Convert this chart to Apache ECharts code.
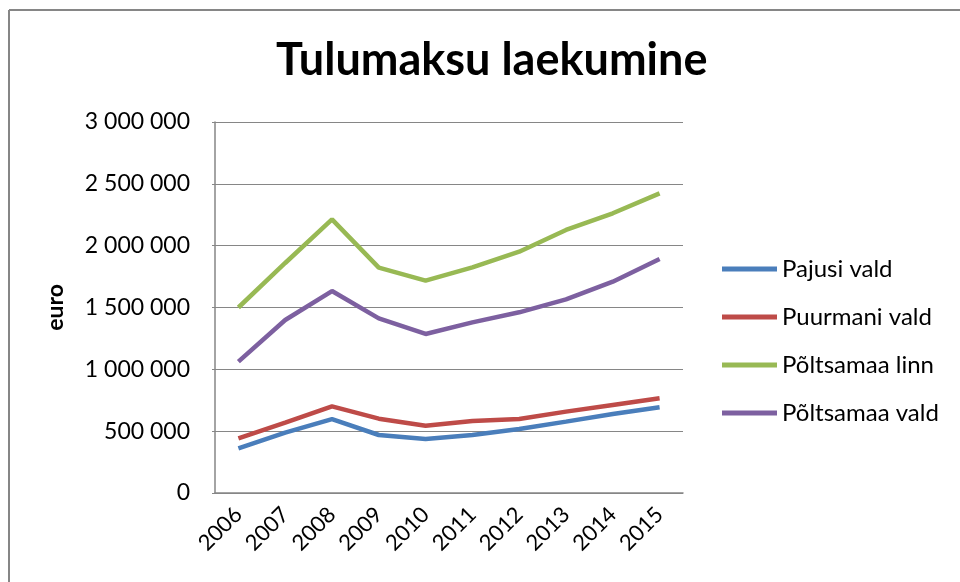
<!DOCTYPE html>
<html>
<head>
<meta charset="utf-8">
<script src="https://cdn.jsdelivr.net/npm/echarts@6/dist/echarts.min.js"></script>
<style>
  html, body { margin: 0; padding: 0; background: #fff; }
  #main { width: 960px; height: 582px; }
</style>
</head>
<body>
<div id="main"></div>
<script>
var years = ['2006', '2007', '2008', '2009', '2010', '2011', '2012', '2013', '2014', '2015'];
var pajusi = [361000, 488000, 598000, 469000, 437000, 469000, 517000, 577000, 639000, 693000];
var puurmani = [442000, 569000, 701000, 601000, 544000, 582000, 598000, 658000, 712000, 766000];
var poltsamaaLinn = [1500000, 1860000, 2213000, 1822000, 1717000, 1825000, 1951000, 2127000, 2262000, 2423000];
var poltsamaaVald = [1062000, 1399000, 1633000, 1412000, 1286000, 1380000, 1461000, 1566000, 1709000, 1892000];

var names = ['Pajusi vald', 'Puurmani vald', 'Põltsamaa linn', 'Põltsamaa vald'];
var colors = ['#4a7ebb', '#be4b48', '#98b954', '#7d60a0'];
var values = [pajusi, puurmani, poltsamaaLinn, poltsamaaVald];

var font = 'Lato, "Open Sans", sans-serif';

var myChart = echarts.init(document.getElementById('main'));

// 3000000 -> "3 000 000"
function fmt(v) {
    return String(v).replace(/\B(?=(\d{3})+(?!\d))/g, ' ');
}

var series = names.map(function (n, i) {
    return {
        name: n,
        type: 'line',
        data: values[i],
        showSymbol: false,
        symbol: 'none',
        lineStyle: { color: colors[i], width: 4.5 },
        itemStyle: { color: colors[i] }
    };
});

var option = {
    backgroundColor: '#fff',
    animation: false,
    title: {
        text: 'Tulumaksu laekumine',
        left: 271,
        top: 33,
        textStyle: { fontFamily: font, fontSize: 45, fontWeight: 'bold', color: '#000' }
    },
    legend: {
        orient: 'vertical',
        left: 722,
        top: 257,
        padding: 0,
        icon: 'rect',
        itemWidth: 55,
        itemHeight: 5,
        itemGap: 24,
        textStyle: { fontFamily: font, fontSize: 24, color: '#000' },
        data: names
    },
    grid: { left: 215, right: 277, top: 122, bottom: 89 },
    xAxis: {
        type: 'category',
        data: years,
        boundaryGap: true,
        axisLine: { lineStyle: { color: '#868686', width: 1.5 } },
        axisTick: { show: false },
        axisLabel: { rotate: 45, fontFamily: font, fontSize: 22, color: '#000', margin: 18 }
    },
    yAxis: {
        type: 'value',
        name: 'euro',
        nameLocation: 'middle',
        nameGap: 148,
        nameRotate: 90,
        nameTextStyle: { fontFamily: font, fontSize: 23, fontWeight: 'bold', color: '#000' },
        min: 0,
        max: 3000000,
        interval: 500000,
        axisLine: { show: true, lineStyle: { color: '#868686', width: 1.5 } },
        axisTick: { show: true, length: 3, lineStyle: { color: '#868686' } },
        splitLine: { lineStyle: { color: '#868686', width: 1 } },
        axisLabel: {
            fontFamily: font, fontSize: 23, color: '#000', margin: 25,
            formatter: function (v) { return fmt(v); }
        }
    },
    graphic: [
        { type: 'line', shape: { x1: 9, y1: 10, x2: 960, y2: 10 }, style: { stroke: '#868686', lineWidth: 2 } },
        { type: 'line', shape: { x1: 9, y1: 10, x2: 9, y2: 582 }, style: { stroke: '#868686', lineWidth: 2 } }
    ],
    series: series
};

myChart.setOption(option);
</script>
</body>
</html>
